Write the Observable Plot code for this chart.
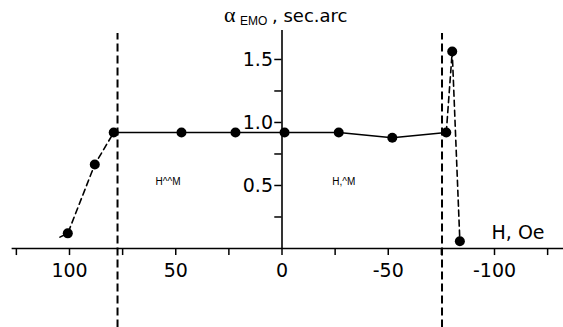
<!DOCTYPE html>
<html>
<head>
<meta charset="utf-8">
<script src="https://cdn.jsdelivr.net/npm/d3@7"></script>
<script src="https://cdn.jsdelivr.net/npm/@observablehq/plot@0.6"></script>
<style>
  html, body { margin: 0; padding: 0; background: #fff; }
  #chart svg { display: block; }
</style>
</head>
<body>
<div id="chart"></div>
<script>
// Field H (Oe) and alpha_EMO (sec.arc)
const leftDashH = [104.5, 100.8, 88.1, 79.2];
const leftDashA = [0.09, 0.12, 0.667, 0.92];
const solidH = [79.2, 47.3, 21.9, -1.2, -26.7, -51.9, -77.3];
const solidA = [0.92, 0.92, 0.92, 0.92, 0.92, 0.879, 0.92];
const rightDashH = [-77.3, -80.1, -83.7];
const rightDashA = [0.92, 1.563, 0.058];
const dotH = [100.8, 88.1, 79.2, 47.3, 21.9, -1.2, -26.7, -51.9, -77.3, -80.1, -83.7];
const dotA = [0.12, 0.667, 0.92, 0.92, 0.92, 0.92, 0.92, 0.879, 0.92, 1.563, 0.058];
const phaseBounds = [77.4, -75.3];
const xTicks = [125, 100, 75, 50, 25, 0, -25, -50, -75, -100, -125];
const xLabels = [100, 50, 0, -50, -100];
const yTicks = [0.25, 0.5, 0.75, 1.0, 1.25, 1.5];
const yLabels = [0.5, 1.0, 1.5];
const yLabelText = ["0.5", "1.0", "1.5"];
const regionH = [59.5, -23.7];
const regionText = ["H^^M", "H,^M"];

const left = leftDashH.map((h, i) => ({h, a: leftDashA[i]}));
const solid = solidH.map((h, i) => ({h, a: solidA[i]}));
const right = rightDashH.map((h, i) => ({h, a: rightDashA[i]}));
const dots = dotH.map((h, i) => ({h, a: dotA[i]}));
const yLab = yLabels.map((v, i) => ({v, t: yLabelText[i]}));
const regions = regionH.map((h, i) => ({h, t: regionText[i]}));

const wide = "DejaVu Sans, Verdana, sans-serif";
const sans = "Liberation Sans, Arial, Helvetica, sans-serif";

const chart = Plot.plot({
  width: 563,
  height: 327,
  marginLeft: 5.25,
  marginRight: 1,
  marginTop: 0,
  marginBottom: 0,
  style: {fontFamily: wide, background: "#fff", color: "#000"},
  x: {domain: [130, -132], axis: null},
  y: {domain: [-0.627, 1.968], axis: null},
  marks: [
    // phase boundaries
    Plot.ruleX(phaseBounds, {x: d => d, y1: -0.63, y2: 1.706, stroke: "#000", strokeWidth: 2, strokeDasharray: "8,4"}),
    // x axis
    Plot.ruleY([0], {x1: 127, x2: -133, stroke: "#000", strokeWidth: 1.6}),
    Plot.ruleX(xTicks, {x: d => d, y1: 0, y2: -0.056, stroke: "#000", strokeWidth: 1.5}),
    Plot.text(xLabels, {x: d => d, y: 0, text: d => String(d), dy: 29, lineAnchor: "bottom", fontSize: 19, fontFamily: wide, fill: "#000"}),
    Plot.text(["H, Oe"], {x: -98.6, y: 0, dy: -9, text: d => d, textAnchor: "start", lineAnchor: "bottom", fontSize: 19, fontFamily: wide, fill: "#000"}),
    // y axis
    Plot.ruleX([0], {y1: 0, y2: 1.73, stroke: "#000", strokeWidth: 1.6}),
    Plot.ruleY(yTicks, {y: d => d, x1: 0, x2: 3.4, stroke: "#000", strokeWidth: 1.5}),
    Plot.text(yLab, {x: 0, y: "v", text: "t", dx: -9, textAnchor: "end", lineAnchor: "middle", fontSize: 19, fontFamily: wide, fill: "#000"}),
    // title
    Plot.text(["\u03B1"], {x: 0, y: 1.8, dx: -58, text: d => d, textAnchor: "start", lineAnchor: "bottom", fontSize: 22, fontFamily: "Liberation Serif, Times New Roman, serif", fill: "#000"}),
    Plot.text(["EMO"], {x: 0, y: 1.8, dx: -42, dy: 3, text: d => d, textAnchor: "start", lineAnchor: "bottom", fontSize: 12, fontFamily: sans, fill: "#000"}),
    Plot.text([", sec.arc"], {x: 0, y: 1.8, dx: -10, text: d => d, textAnchor: "start", lineAnchor: "bottom", fontSize: 18, fontFamily: wide, fill: "#000"}),
    // region labels
    Plot.text(regions, {x: "h", y: 0.504, text: "t", textAnchor: "start", lineAnchor: "bottom", fontSize: 10, fontFamily: sans, fill: "#000"}),
    // data
    Plot.line(left, {x: "h", y: "a", stroke: "#000", strokeWidth: 1.6, strokeDasharray: "6,4"}),
    Plot.line(solid, {x: "h", y: "a", stroke: "#000", strokeWidth: 1.6}),
    Plot.line(right, {x: "h", y: "a", stroke: "#000", strokeWidth: 1.6, strokeDasharray: "6,4"}),
    Plot.dot(dots, {x: "h", y: "a", r: 5, fill: "#000", stroke: "none"})
  ]
});
document.getElementById("chart").appendChild(chart);
</script>
</body>
</html>
